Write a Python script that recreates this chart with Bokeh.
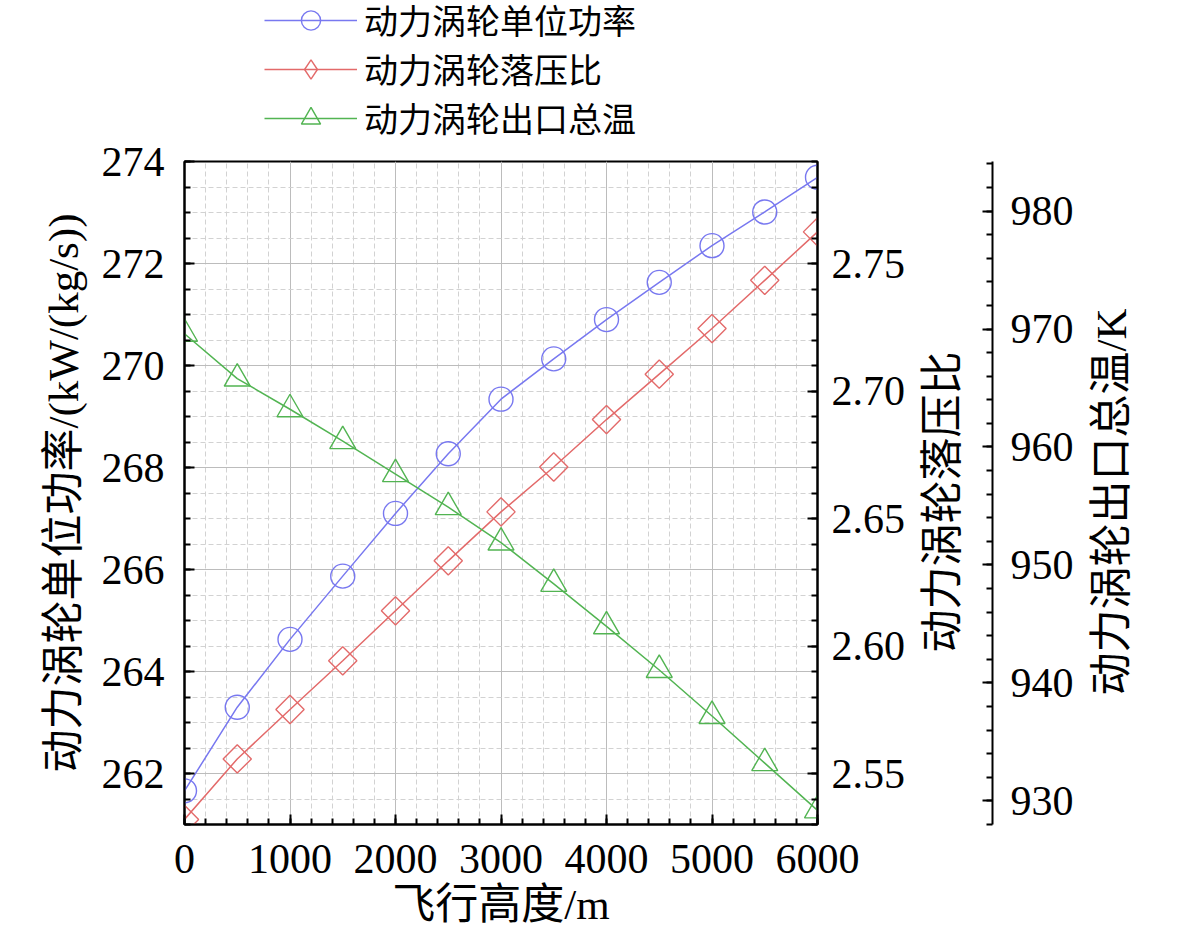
import math
from bokeh.plotting import figure
from bokeh.layouts import column
from bokeh.models import (Range1d, LinearAxis, SingleIntervalTicker, FixedTicker,
                          PrintfTickFormatter, Legend, LegendItem)
from bokeh.embed import file_html
from bokeh.resources import INLINE

# ---------------- data ----------------
altitude = [0, 500, 1000, 1500, 2000, 2500, 3000, 3500, 4000, 4500, 5000, 5500, 6000]
power = [261.66, 263.30, 264.63, 265.87, 267.10, 268.27, 269.34, 270.13, 270.90,
         271.63, 272.35, 273.01, 273.69]
pressure_ratio = [2.5320, 2.5557, 2.5751, 2.5942, 2.6138, 2.6334, 2.6526, 2.6702,
                  2.6888, 2.7066, 2.7245, 2.7434, 2.7624]
outlet_temp = [969.6, 965.8, 963.2, 960.5, 957.7, 954.9, 951.9, 948.4, 944.8,
               941.1, 937.2, 933.2, 929.2]

series_names = ["动力涡轮单位功率", "动力涡轮落压比", "动力涡轮出口总温"]
x_label = "飞行高度/m"
y_label = "动力涡轮单位功率/(kW/(kg/s))"
y2_label = "动力涡轮落压比"
y3_label = "动力涡轮出口总温/K"

BLUE = "#7878f0"
RED = "#e36a6a"
GREEN = "#52b452"
SERIF = "Liberation Serif"
MIX = "'Liberation Serif', 'Noto Sans CJK SC'"
TICK_FS = "42px"
LABEL_FS = "43px"

HAS_ALIGN = "axis_label_align" in LinearAxis.properties()

p = figure(frame_width=633, frame_height=663,
           min_border_left=184, min_border_top=24, min_border_bottom=10,
           min_border_right=10,
           x_range=Range1d(0, 6000), y_range=Range1d(261, 274),
           output_backend="svg", toolbar_location=None)
p.extra_y_ranges = {"pr": Range1d(2.53, 2.79), "temp": Range1d(928, 984.2)}

p.outline_line_color = "black"
p.outline_line_width = 2
p.background_fill_color = "white"
p.border_fill_color = "white"


def style_axis(ax, label):
    ax.axis_label = label
    ax.axis_label_text_font = MIX
    ax.axis_label_text_font_size = LABEL_FS
    ax.axis_label_text_font_style = "normal"
    ax.axis_label_text_color = "black"
    ax.major_label_text_font = SERIF
    ax.major_label_text_font_size = TICK_FS
    ax.major_label_text_color = "black"
    ax.axis_line_color = "black"
    ax.axis_line_width = 2
    ax.major_tick_line_color = "black"
    ax.minor_tick_line_color = "black"
    ax.major_tick_line_width = 2
    ax.minor_tick_line_width = 2
    ax.major_tick_in = 10
    ax.major_tick_out = 0
    ax.minor_tick_in = 6
    ax.minor_tick_out = 0


def label_only_axis(range_name, label, lift, standoff):
    ax = LinearAxis(y_range_name=range_name, ticker=FixedTicker(ticks=[], minor_ticks=[]))
    if HAS_ALIGN:
        # anchor the title at the bottom of the axis, lifted by ideographic spaces
        ax.axis_label_align = "start"
        ax.axis_label = "\u3000" * lift + label
    else:
        ax.axis_label = label
    ax.axis_label_text_font = MIX
    ax.axis_label_text_font_size = LABEL_FS
    ax.axis_label_text_font_style = "normal"
    ax.axis_label_text_color = "black"
    ax.axis_label_standoff = standoff
    ax.axis_label_orientation = math.pi / 2
    ax.axis_line_color = None
    ax.major_tick_line_color = None
    ax.minor_tick_line_color = None
    ax.major_tick_in = 0
    ax.major_tick_out = 0
    ax.minor_tick_in = 0
    ax.minor_tick_out = 0
    ax.major_label_standoff = 0
    ax.major_label_text_font_size = "0px"
    return ax


# bottom axis
xa = p.xaxis[0]
xa.ticker = SingleIntervalTicker(interval=1000, num_minor_ticks=5)
style_axis(xa, x_label)
xa.major_label_standoff = 20
xa.axis_label_standoff = 5

# left axis
ya = p.yaxis[0]
ya.ticker = SingleIntervalTicker(interval=2, num_minor_ticks=4)
style_axis(ya, y_label)
ya.major_label_standoff = 20
ya.axis_label_standoff = 12

# first right axis (ticks) + its title
ax_pr = LinearAxis(y_range_name="pr",
                   ticker=SingleIntervalTicker(interval=0.05, num_minor_ticks=5),
                   formatter=PrintfTickFormatter(format="%.2f"))
style_axis(ax_pr, None)
ax_pr.major_label_standoff = 14
p.add_layout(ax_pr, "right")
p.add_layout(label_only_axis("pr", y2_label, 4, 34), "right")

# spacer between the two right axes
spacer = LinearAxis(y_range_name="pr", ticker=FixedTicker(ticks=[], minor_ticks=[]))
spacer.axis_line_color = None
spacer.major_tick_line_color = None
spacer.minor_tick_line_color = None
spacer.major_tick_in = 0
spacer.major_tick_out = 22
spacer.major_label_text_font_size = "0px"
p.add_layout(spacer, "right")

# second right axis (ticks) + its title
ax_t = LinearAxis(y_range_name="temp",
                  ticker=SingleIntervalTicker(interval=10, num_minor_ticks=5))
style_axis(ax_t, None)
ax_t.major_label_standoff = 18
p.add_layout(ax_t, "right")
p.add_layout(label_only_axis("temp", y3_label, 3, 35), "right")

# grids
for g in (p.xgrid[0], p.ygrid[0]):
    g.grid_line_color = "#bcbcbc"
    g.grid_line_width = 1
    g.minor_grid_line_color = "#d2d2d2"
    g.minor_grid_line_width = 1
    g.minor_grid_line_dash = "5 3"

# series
p.line(altitude, power, line_color=BLUE, line_width=1.5)
p.scatter(altitude, power, marker="circle", size=24, fill_color=None,
          line_color=BLUE, line_width=1.4)
p.line(altitude, pressure_ratio, line_color=RED, line_width=1.5, y_range_name="pr")
p.scatter(altitude, pressure_ratio, marker="square", angle=math.pi / 4, size=20,
          fill_color=None, line_color=RED, line_width=1.4, y_range_name="pr")
p.line(altitude, outlet_temp, line_color=GREEN, line_width=1.5, y_range_name="temp")
p.scatter(altitude, outlet_temp, marker="triangle", size=26, fill_color=None,
          line_color=GREEN, line_width=1.4, y_range_name="temp")

# ---------------- legend strip above the plot ----------------
# its renderers hold the same series but lie outside this strip's view
lg = figure(frame_width=800, frame_height=137, min_border=0,
            x_axis_location=None, y_axis_location=None,
            x_range=Range1d(-2, -1), y_range=Range1d(-2, -1),
            output_backend="svg", toolbar_location=None)
lg.outline_line_color = None
lg.grid.visible = False
lg.background_fill_color = "white"
lg.border_fill_color = "white"

k1 = lg.line(altitude, power, line_color=BLUE, line_width=1.5)
m1 = lg.scatter(altitude, power, marker="circle", fill_color=None, line_color=BLUE,
                line_width=1.4)
k2 = lg.line(altitude, pressure_ratio, line_color=RED, line_width=1.5)
m2 = lg.scatter(altitude, pressure_ratio, marker="diamond", fill_color=None,
                line_color=RED, line_width=1.4)
k3 = lg.line(altitude, outlet_temp, line_color=GREEN, line_width=1.5)
m3 = lg.scatter(altitude, outlet_temp, marker="triangle", fill_color=None,
                line_color=GREEN, line_width=1.4)

legend = Legend(items=[LegendItem(label=series_names[0], renderers=[k1, m1]),
                       LegendItem(label=series_names[1], renderers=[k2, m2]),
                       LegendItem(label=series_names[2], renderers=[k3, m3])],
                location=(264, -5))
legend.glyph_width = 93
legend.glyph_height = 48
legend.label_height = 48
legend.spacing = 0
legend.padding = 0
legend.margin = 0
legend.label_standoff = 7
legend.label_text_font = MIX
legend.label_text_font_size = "34px"
legend.label_text_color = "black"
legend.border_line_color = None
legend.background_fill_alpha = 0
lg.add_layout(legend)

layout = column(lg, p, spacing=0)
open("out.html", "w").write(file_html(layout, INLINE))
